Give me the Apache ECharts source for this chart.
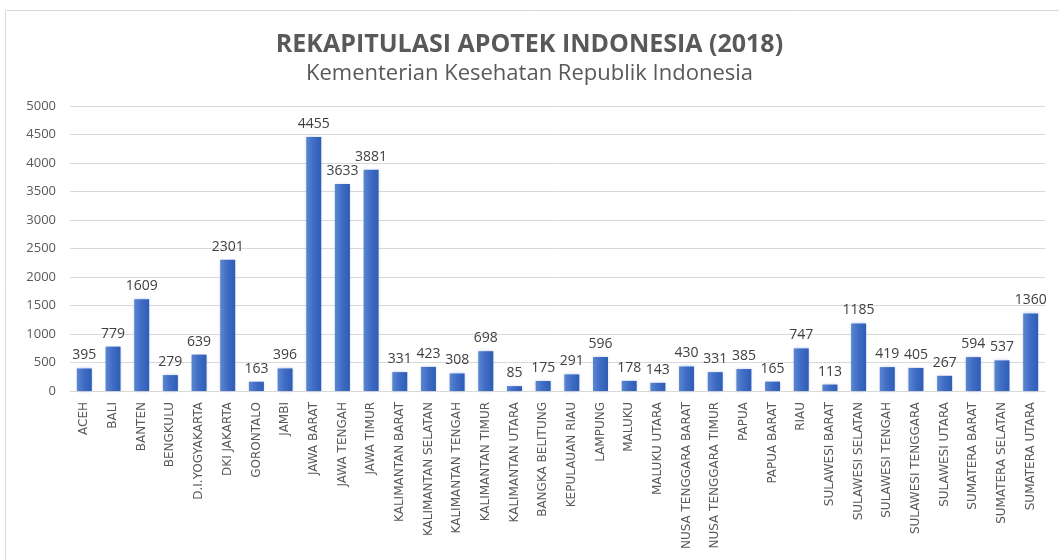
<!DOCTYPE html>
<html>
<head>
<meta charset="utf-8">
<script src="https://cdn.jsdelivr.net/npm/echarts@6/dist/echarts.min.js"></script>
<style>
  html, body { margin: 0; padding: 0; background: #fff; }
  #chart { width: 1059px; height: 560px; }
</style>
</head>
<body>
<div id="chart"></div>
<script>
const provinces = [
  "ACEH", "BALI", "BANTEN", "BENGKULU", "D.I.YOGYAKARTA", "DKI JAKARTA", "GORONTALO",
  "JAMBI", "JAWA BARAT", "JAWA TENGAH", "JAWA TIMUR", "KALIMANTAN BARAT",
  "KALIMANTAN SELATAN", "KALIMANTAN TENGAH", "KALIMANTAN TIMUR", "KALIMANTAN UTARA",
  "BANGKA BELITUNG", "KEPULAUAN RIAU", "LAMPUNG", "MALUKU", "MALUKU UTARA",
  "NUSA TENGGARA BARAT", "NUSA TENGGARA TIMUR", "PAPUA", "PAPUA BARAT", "RIAU",
  "SULAWESI BARAT", "SULAWESI SELATAN", "SULAWESI TENGAH", "SULAWESI TENGGARA",
  "SULAWESI UTARA", "SUMATERA BARAT", "SUMATERA SELATAN", "SUMATERA UTARA"
];
const apotek = [
  395, 779, 1609, 279, 639, 2301, 163,
  396, 4455, 3633, 3881, 331,
  423, 308, 698, 85,
  175, 291, 596, 178, 143,
  430, 331, 385, 165, 747,
  113, 1185, 419, 405,
  267, 594, 537, 1360
];

const chart = echarts.init(document.getElementById("chart"));

const option = {
  animation: false,
  textStyle: { fontFamily: "Open Sans" },
  title: {
    text: "REKAPITULASI APOTEK INDONESIA (2018)",
    subtext: "Kementerian Kesehatan Republik Indonesia",
    left: "center",
    top: 27,
    itemGap: 6,
    textStyle: { fontFamily: "Open Sans", fontSize: 25, fontWeight: "bold", color: "#595959" },
    subtextStyle: { fontFamily: "Open Sans", fontSize: 22, color: "#595959" },
  },
  graphic: [
    {
      type: "rect",
      shape: { x: 5.5, y: 10.5, width: 1060, height: 560 },
      style: { fill: "none", stroke: "#d9d9d9", lineWidth: 1 },
      silent: true,
    },
  ],
  grid: { left: 70, right: 14, top: 106, bottom: 169 },
  xAxis: {
    type: "category",
    data: provinces,
    axisTick: { show: false },
    axisLine: { lineStyle: { color: "#d9d9d9" } },
    axisLabel: {
      interval: 0,
      rotate: 90,
      fontFamily: "DejaVu Sans",
      fontSize: 12,
      color: "#595959",
      margin: 11,
    },
  },
  yAxis: {
    type: "value",
    min: 0,
    max: 5000,
    interval: 500,
    axisLine: { show: false },
    axisTick: { show: false },
    splitLine: { lineStyle: { color: "#d9d9d9" } },
    axisLabel: {
      fontSize: 13,
      color: "#595959",
      margin: 14,
      formatter: (v) => String(v),
    },
  },
  series: [
    {
      type: "bar",
      data: apotek,
      barWidth: 15,
      itemStyle: {
        color: new echarts.graphic.LinearGradient(0, 0, 1, 0, [
          { offset: 0, color: "#5b86d0" },
          { offset: 0.5, color: "#3e6bc4" },
          { offset: 1, color: "#2f5cb5" },
        ]),
        shadowColor: "rgba(68,114,196,0.35)",
        shadowBlur: 3,
      },
      label: {
        show: true,
        position: "top",
        distance: 6,
        fontSize: 14,
        color: "#404040",
      },
    },
  ],
};

chart.setOption(option);
</script>
</body>
</html>
